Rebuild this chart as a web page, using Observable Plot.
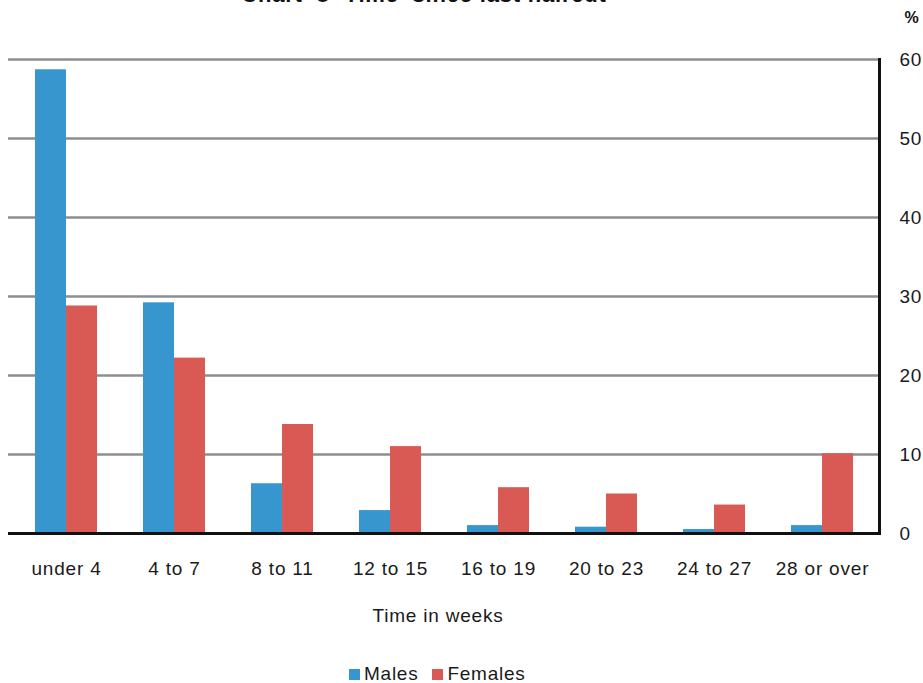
<!DOCTYPE html>
<html>
<head>
<meta charset="utf-8">
<script src="https://cdn.jsdelivr.net/npm/d3@7"></script>
<script src="https://cdn.jsdelivr.net/npm/@observablehq/plot@0.6"></script>
<style>
  html, body { margin: 0; padding: 0; background: #fff; }
  #wrap { position: relative; width: 923px; height: 683px; overflow: hidden; font-family: "Liberation Sans", Arial, sans-serif; }
  #wrap svg text { letter-spacing: 0.8px; }
  #legend { position: absolute; top: 663px; left: 349px; display: flex; align-items: center; font-size: 19px; letter-spacing: 0.75px; color: #1a1a1a; line-height: 22px; }
  #legend .sw { display: inline-block; width: 11px; height: 11px; margin-right: 4px; }
  #legend .item { display: flex; align-items: center; margin-right: 14px; }
</style>
</head>
<body>
<div id="wrap"></div>
<script>
const categories = ["under 4", "4 to 7", "8 to 11", "12 to 15", "16 to 19", "20 to 23", "24 to 27", "28 or over"];
const males   = [58.7, 29.2, 6.3, 2.9, 1.0, 0.8, 0.5, 1.0];
const females = [28.8, 22.2, 13.8, 11.0, 5.8, 5.0, 3.6, 10.1];
const yTicks  = [0, 10, 20, 30, 40, 50, 60];
const gridTicks = [10, 20, 30, 40, 50, 60];
const seriesNames = ["Males", "Females"];
const seriesColors = ["#3796cd", "#d95a55"];
const title = "Chart  8 -Time  since last haircut";
const xLabel = "Time in weeks";
const yUnit = "%";

const data = categories.map((c, i) => ({category: c, males: males[i], females: females[i]}));
const half = 31;

const chart = Plot.plot({
  width: 923,
  height: 683,
  marginLeft: 8,
  marginRight: 44,
  marginTop: 59,
  marginBottom: 150,
  style: {fontFamily: "Liberation Sans, Arial, sans-serif", fontSize: "19px", color: "#1a1a1a", background: "#fff"},
  x: {domain: categories, paddingInner: 0.43, paddingOuter: 0.215, label: null, tickSize: 0, tickPadding: 28},
  y: {domain: [0, 60], ticks: yTicks, axis: "right", tickSize: 0, tickPadding: 20, label: null},
  marks: [
    Plot.ruleY(gridTicks, {stroke: "#8e8e8e", strokeWidth: 2.5}),
    Plot.barY(data, {x: "category", y: "males", fill: seriesColors[0], insetRight: half}),
    Plot.barY(data, {x: "category", y: "females", fill: seriesColors[1], insetLeft: half}),
    Plot.ruleY([0], {stroke: "#111", strokeWidth: 3, insetRight: -2}),
    Plot.frame({anchor: "right", stroke: "#111", strokeWidth: 3}),
    Plot.text([title], {frameAnchor: "top", dx: -20, dy: -58, lineAnchor: "bottom", fontWeight: "bold", fontSize: 22, fill: "#111"}),
    Plot.text([yUnit], {frameAnchor: "top-right", dx: 25, dy: -48, textAnchor: "start", fontWeight: "bold", fontSize: 16, fill: "#111"}),
    Plot.text([xLabel], {frameAnchor: "bottom", dx: -6, dy: 88, fontSize: 19, fill: "#1a1a1a"})
  ]
});
const wrap = document.getElementById("wrap");
wrap.appendChild(chart);

const legend = document.createElement("div");
legend.id = "legend";
seriesNames.forEach((n, i) => {
  const item = document.createElement("span");
  item.className = "item";
  const sw = document.createElement("span");
  sw.className = "sw";
  sw.style.background = seriesColors[i];
  item.appendChild(sw);
  item.appendChild(document.createTextNode(n));
  legend.appendChild(item);
});
wrap.appendChild(legend);
</script>
</body>
</html>
